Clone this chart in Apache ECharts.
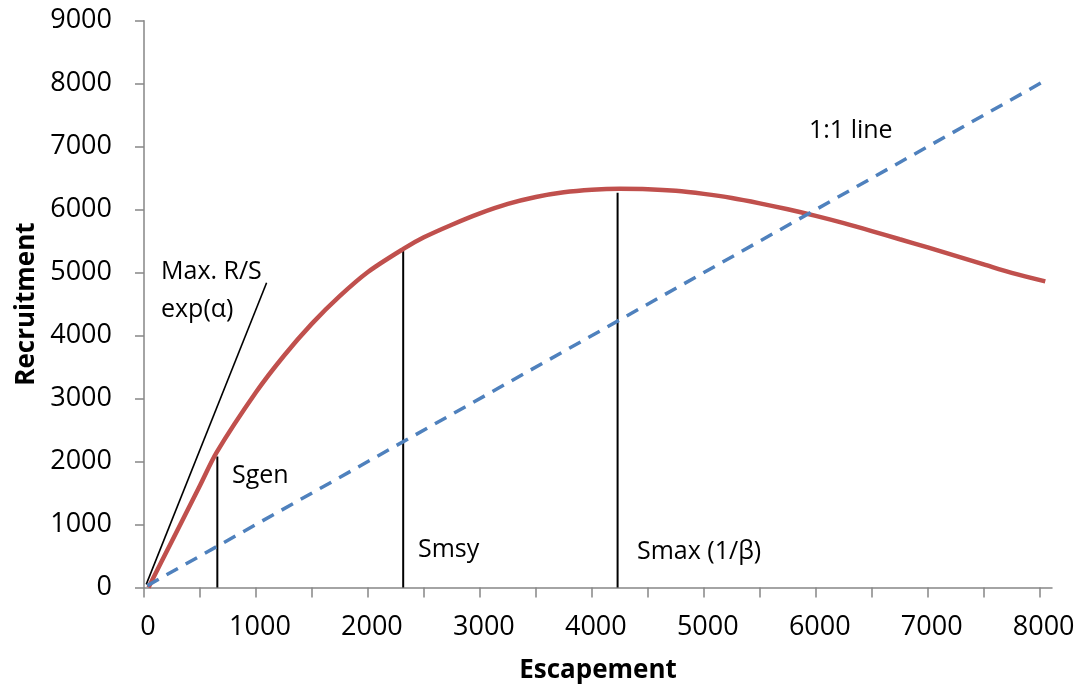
<!DOCTYPE html>
<html>
<head>
<meta charset="utf-8">
<script src="https://cdn.jsdelivr.net/npm/echarts@6/dist/echarts.min.js"></script>
<style>html,body{margin:0;padding:0;background:#fff}#c{width:1082px;height:696px}</style>
</head>
<body>
<div id="c"></div>
<script>
// Escapement (S) values and read recruitment (R) values of the stock-recruit curve
const escapement = [40, 250, 500, 650, 1000, 1250, 1500, 1750, 2000, 2320, 2500, 2750, 3000, 3250, 3500, 3750, 4000, 4250, 4500, 4750, 5000, 5250, 5500, 5750, 6000, 6250, 6500, 6750, 7000, 7250, 7500, 7750, 8050];
const recruitment = [0, 740, 1620, 2150, 3100, 3680, 4190, 4630, 5010, 5380, 5560, 5760, 5940, 6090, 6200, 6275, 6315, 6330, 6325, 6300, 6250, 6185, 6100, 6005, 5900, 5785, 5660, 5530, 5400, 5265, 5130, 4995, 4860];
// 1:1 replacement line
const oneToOneS = [30, 8050];
const oneToOneR = [30, 8050];
// Max R/S (exp(alpha)) slope line
const maxRS_S = [20, 1095];
const maxRS_R = [50, 4840];
// reference points: Sgen, Smsy, Smax
const refNames = ['Sgen', 'Smsy', 'Smax'];
const refS = [655, 2315, 4230];
const refR = [2080, 5350, 6270];
// axis ticks
const xTicks = [0, 500, 1000, 1500, 2000, 2500, 3000, 3500, 4000, 4500, 5000, 5500, 6000, 6500, 7000, 7500, 8000];
const xLabels = [0, 1000, 2000, 3000, 4000, 5000, 6000, 7000, 8000];
const yLabels = [0, 1000, 2000, 3000, 4000, 5000, 6000, 7000, 8000, 9000];

const FONT = '"Open Sans", "Liberation Sans", sans-serif';
const axisColor = '#868686';

const pair = (a, b) => a.map((v, i) => [v, b[i]]);

const series = [
  {
    type: 'line', name: 'Recruitment', data: pair(escapement, recruitment),
    showSymbol: false, smooth: 0.3,
    lineStyle: { color: '#C0504D', width: 4.5 }, z: 3
  },
  {
    type: 'line', name: '1:1 line', data: pair(oneToOneS, oneToOneR),
    showSymbol: false, lineStyle: { color: '#4F81BD', width: 3.5, type: [13, 9] }, z: 4
  },
  {
    type: 'line', name: 'Max R/S', data: pair(maxRS_S, maxRS_R),
    showSymbol: false, lineStyle: { color: '#000', width: 1.6 }, z: 2
  }
];
refNames.forEach((n, i) => {
  series.push({
    type: 'line', name: n, data: [[refS[i], 0], [refS[i], refR[i]]],
    showSymbol: false, lineStyle: { color: '#000', width: 2 }, z: 2
  });
});

const chart = echarts.init(document.getElementById('c'), null, { renderer: 'canvas' });
chart.setOption({
  backgroundColor: '#fff',
  animation: false,
  grid: { left: 144, right: 30, top: 20.7, bottom: 108.5, containLabel: false },
  xAxis: {
    type: 'value', min: 0, max: 8110,
    name: 'Escapement', nameLocation: 'middle', nameGap: 70,
    nameTextStyle: { fontFamily: FONT, fontWeight: 'bold', fontSize: 26, color: '#000' },
    axisLine: { show: true, onZero: false, lineStyle: { color: axisColor, width: 1.5 } },
    axisTick: { show: true, inside: false, length: 10, customValues: xTicks, lineStyle: { color: axisColor, width: 1.5 } },
    axisLabel: { customValues: xLabels, margin: 26, fontFamily: FONT, fontSize: 27, color: '#000',
      padding: [0, 0, 0, 8], formatter: v => String(v) },
    splitLine: { show: false }
  },
  yAxis: {
    type: 'value', min: 0, max: 9000, interval: 1000,
    name: 'Recruitment', nameLocation: 'middle', nameGap: 104,
    nameTextStyle: { fontFamily: FONT, fontWeight: 'bold', fontSize: 26, color: '#000' },
    axisLine: { show: true, lineStyle: { color: axisColor, width: 1.5 } },
    axisTick: { show: true, inside: false, length: 9, lineStyle: { color: axisColor, width: 1.5 } },
    axisLabel: { margin: 32, fontFamily: FONT, fontSize: 27, color: '#000',
      formatter: v => (yLabels.indexOf(v) >= 0 ? String(v) : '') },
    splitLine: { show: false }
  },
  graphic: [
    { type: 'text', left: 161, top: 259, style: { text: 'Max. R/S', font: '25px ' + FONT, fill: '#000' } },
    { type: 'text', left: 161, top: 297, style: { text: 'exp(α)', font: '25px ' + FONT, fill: '#000' } },
    { type: 'text', left: 232, top: 463, style: { text: 'Sgen', font: '25px ' + FONT, fill: '#000' } },
    { type: 'text', left: 418, top: 537, style: { text: 'Smsy', font: '25px ' + FONT, fill: '#000' } },
    { type: 'text', left: 637, top: 539, style: { text: 'Smax (1/β)', font: '25px ' + FONT, fill: '#000' } },
    { type: 'text', left: 809, top: 118, style: { text: '1:1 line', font: '25px ' + FONT, fill: '#000' } }
  ],
  series: series
});
</script>
</body>
</html>
